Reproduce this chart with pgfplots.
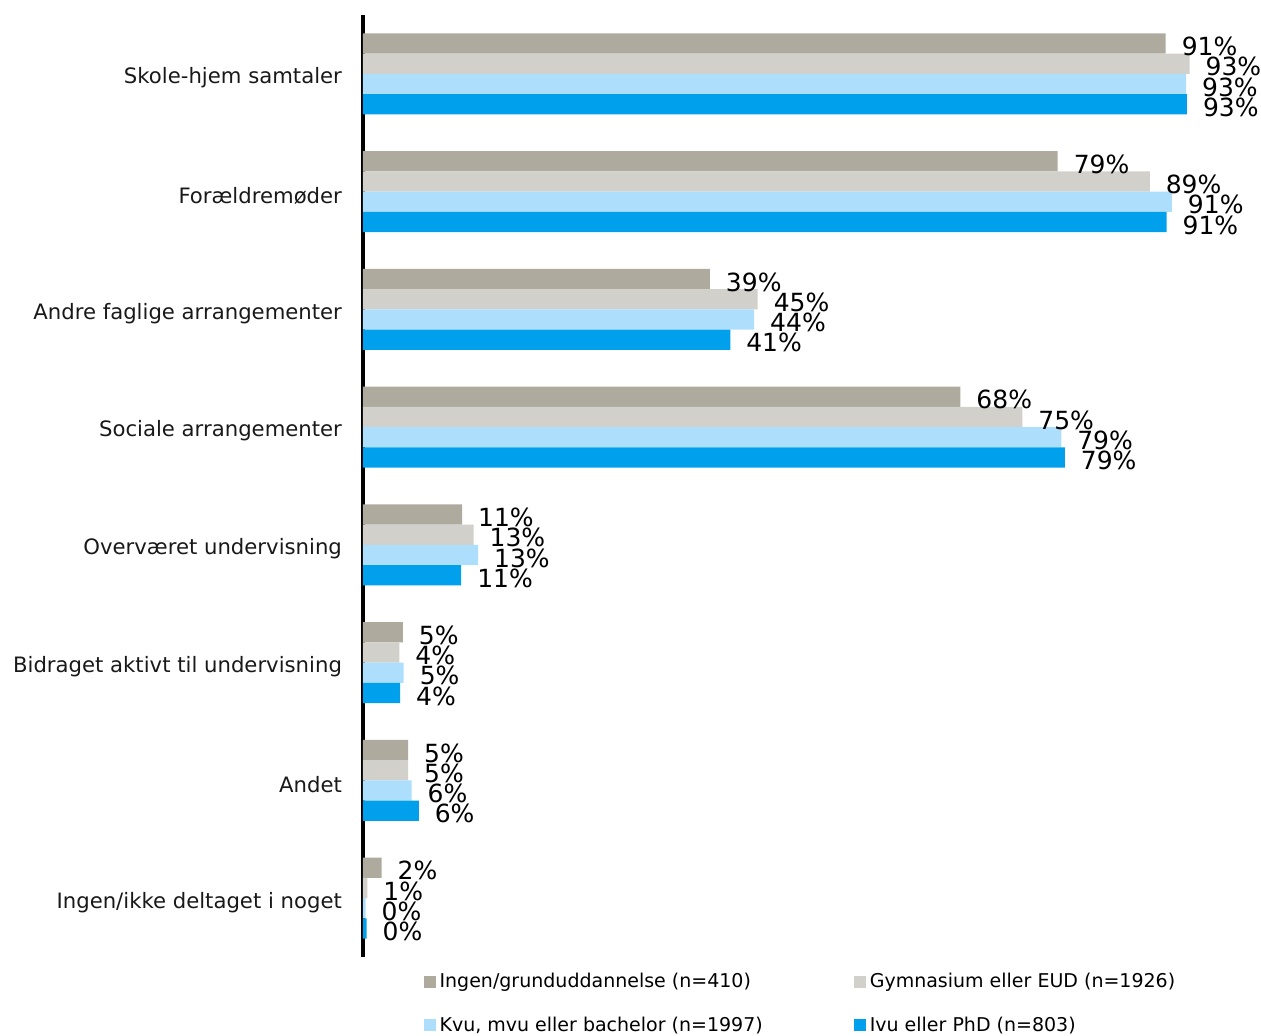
\documentclass[border=0pt]{standalone}
\usepackage{pgfplots}
\pgfplotsset{compat=1.18}
\usepackage{pgfplotstable}
\usepackage{fontspec}
\setmainfont{DejaVu Sans}
\definecolor{cA}{RGB}{174,171,158}
\definecolor{cB}{RGB}{209,208,202}
\definecolor{cC}{RGB}{173,222,252}
\definecolor{cD}{RGB}{0,160,236}

\pgfplotstableread{
c v l
0 90.7 91
1 78.5 79
2 39.2 39
3 67.5 68
4 11.2 11
5 4.5 5
6 5.1 5
7 2.1 2
}\ingen
\pgfplotstableread{
c v l
0 93.4 93
1 88.9 89
2 44.6 45
3 74.5 75
4 12.5 13
5 4.1 4
6 5.1 5
7 0.5 1
}\gym
\pgfplotstableread{
c v l
0 93.0 93
1 91.4 91
2 44.2 44
3 78.9 79
4 13.0 13
5 4.6 5
6 5.5 6
7 0.3 0
}\kvu
\pgfplotstableread{
c v l
0 93.1 93
1 90.8 91
2 41.5 41
3 79.3 79
4 11.1 11
5 4.2 4
6 6.3 6
7 0.4 0
}\ivu

\begin{document}
\begin{tikzpicture}
\useasboundingbox (-181.5pt,-39pt) rectangle (449pt,478.5pt);
\begin{axis}[
  at={(0,0)}, anchor=south west,
  scale only axis, width=442.5pt, height=471pt,
  xmin=0, xmax=100, ymin=-0.5, ymax=7.5, y dir=reverse,
  axis x line=none, axis y line=left,
  y axis line style={-, line width=2pt, black},
  ytick={0,...,7},
  yticklabels={Skole-hjem samtaler, Forældremøder, Andre faglige arrangementer, Sociale arrangementer, Overværet undervisning, Bidraget aktivt til undervisning, Andet, Ingen/ikke deltaget i noget},
  ytick style={draw=none}, major tick length=0pt,
  yticklabel style={font=\fontsize{10.6pt}{13pt}\selectfont, text=black!90, xshift=-7pt, yshift=-2pt},
  point meta=explicit,
  /pgf/number format/assume math mode=true,
  nodes near coords={\pgfmathprintnumber{\pgfplotspointmeta}\%},
  every node near coord/.append style={font=\fontsize{12.5pt}{14pt}\selectfont, anchor=west, xshift=4.5pt, yshift=-1.5pt, text=black},
  xbar, bar width=0.172,
  legend columns=2,
  legend cell align=left,
  legend image code/.code={\fill[#1] (0pt,-3pt) rectangle (6pt,3pt);},
  legend style={at={(0.068,-0.0125)}, anchor=north west, draw=none, fill=none,
    font=\fontsize{9.5pt}{11.5pt}\selectfont, row sep=9pt, inner sep=0pt,
    /tikz/every even column/.append style={column sep=43.5pt}},
]
\addplot[fill=cA, draw=none, bar shift=-0.258] table[x=v,y=c,meta=l] {\ingen};
\addplot[fill=cB, draw=none, bar shift=-0.086] table[x=v,y=c,meta=l] {\gym};
\addplot[fill=cC, draw=none, bar shift=0.086] table[x=v,y=c,meta=l] {\kvu};
\addplot[fill=cD, draw=none, bar shift=0.258] table[x=v,y=c,meta=l] {\ivu};
\legend{Ingen/grunduddannelse (n=410), Gymnasium eller EUD (n=1926), {Kvu, mvu eller bachelor (n=1997)}, Ivu eller PhD (n=803)}
\end{axis}
\end{tikzpicture}
\end{document}
